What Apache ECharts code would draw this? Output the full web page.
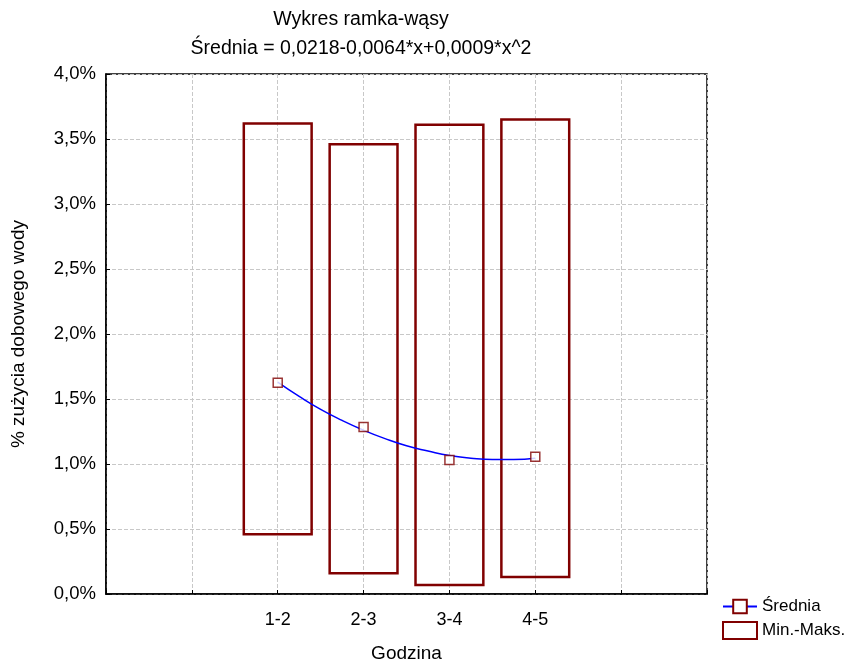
<!DOCTYPE html>
<html>
<head>
<meta charset="utf-8">
<script src="https://cdn.jsdelivr.net/npm/echarts@6/dist/echarts.min.js"></script>
<style>
  html, body { margin: 0; padding: 0; background: #fff; }
  #chart { width: 862px; height: 662px; }
</style>
</head>
<body>
<div id="chart"></div>
<script>
  // categories and their positions on the x axis (0..7)
  const categories = ['1-2', '2-3', '3-4', '4-5'];
  const positions = [2, 3, 4, 5];
  // values in %
  const minValues = [0.46, 0.16, 0.07, 0.13];
  const maxValues = [3.62, 3.46, 3.61, 3.65];
  const meanValues = [1.625, 1.285, 1.03, 1.055];
  // fitted curve
  const curveX = [2, 2.25, 2.5, 2.75, 3, 3.25, 3.5, 3.75, 4, 4.25, 4.5, 4.75, 5];
  const curveY = [1.63, 1.52, 1.42, 1.335, 1.26, 1.195, 1.14, 1.10, 1.065, 1.045, 1.035, 1.035, 1.045];

  const font = 'Liberation Sans, Arial, sans-serif';
  const dark = '#800000';

  const chart = echarts.init(document.getElementById('chart'), null, { renderer: 'canvas' });

  const boxData = positions.map((p, i) => [p, minValues[i], maxValues[i]]);
  const meanData = positions.map((p, i) => [p, meanValues[i]]);
  const curveData = curveX.map((x, i) => [x, curveY[i]]);

  const option = {
    backgroundColor: '#fff',
    animation: false,
    title: {
      text: 'Wykres ramka-wąsy\nŚrednia = 0,0218-0,0064*x+0,0009*x^2',
      left: 356,
      textAlign: 'center',
      top: 0,
      textStyle: { fontFamily: font, fontSize: 19.5, fontWeight: 'normal', color: '#000', lineHeight: 29 }
    },
    legend: {
      orient: 'vertical',
      left: 717,
      top: 593,
      itemWidth: 34,
      itemHeight: 17,
      itemGap: 6,
      textStyle: { fontFamily: font, fontSize: 17, color: '#000' },
      data: [{ name: 'Średnia' }, { name: 'Min.-Maks.', icon: 'rect' }]
    },
    grid: {
      left: 106, right: 155, top: 74, bottom: 68,
      outerBoundsMode: 'none',
      containLabel: false,
      show: true, borderColor: '#000', borderWidth: 1.5
    },
    xAxis: {
      type: 'value',
      min: 0, max: 7, interval: 1,
      name: 'Godzina',
      nameLocation: 'middle',
      nameGap: 50,
      nameTextStyle: { fontFamily: font, fontSize: 19, color: '#000' },
      axisLine: { lineStyle: { color: '#000', width: 1.5 } },
      axisTick: { inside: true, length: 4, lineStyle: { color: '#000' } },
      axisLabel: {
        fontFamily: font, fontSize: 18, color: '#000', margin: 17,
        formatter: v => { const i = positions.indexOf(v); return i >= 0 ? categories[i] : ''; }
      },
      splitLine: { show: true, lineStyle: { color: '#c8c8c8', type: 'dashed', width: 1 } }
    },
    yAxis: {
      type: 'value',
      min: 0, max: 4, interval: 0.5,
      name: '% zużycia dobowego wody',
      nameLocation: 'middle',
      nameGap: 78,
      nameTextStyle: { fontFamily: font, fontSize: 19, color: '#000' },
      axisLine: { show: true, lineStyle: { color: '#000', width: 1.5 } },
      axisTick: { show: true, inside: true, length: 4, lineStyle: { color: '#000' } },
      axisLabel: {
        fontFamily: font, fontSize: 18.5, color: '#000', margin: 10,
        formatter: v => v.toFixed(1).replace('.', ',') + '%'
      },
      splitLine: { show: true, lineStyle: { color: '#c8c8c8', type: 'dashed', width: 1 } }
    },
    series: [
      {
        name: 'Min.-Maks.',
        type: 'custom',
        itemStyle: { color: '#fff', borderColor: dark, borderWidth: 2 },
        encode: { x: 0, y: [1, 2] },
        renderItem: function (params, api) {
          const x = api.value(0);
          const lo = api.coord([x, api.value(1)]);
          const hi = api.coord([x, api.value(2)]);
          const w = api.size([0.79, 0])[0];
          return {
            type: 'rect',
            shape: { x: lo[0] - w / 2, y: hi[1], width: w, height: lo[1] - hi[1] },
            style: { fill: 'rgba(255,255,255,0)', stroke: dark, lineWidth: 2.5 }
          };
        },
        data: boxData,
        z: 2
      },
      {
        name: 'Średnia',
        type: 'line',
        data: curveData,
        smooth: true,
        symbol: 'rect',
        symbolSize: 9,
        showSymbol: false,
        lineStyle: { color: '#0000ff', width: 1.5 },
        itemStyle: { color: '#fff', borderColor: dark, borderWidth: 1.5 },
        z: 3
      },
      {
        name: 'Średnia',
        type: 'scatter',
        data: meanData,
        symbol: 'rect',
        symbolSize: 9,
        itemStyle: { color: '#fff', borderColor: dark, borderWidth: 1.5 },
        z: 4
      }
    ]
  };

  chart.setOption(option);
</script>
</body>
</html>
